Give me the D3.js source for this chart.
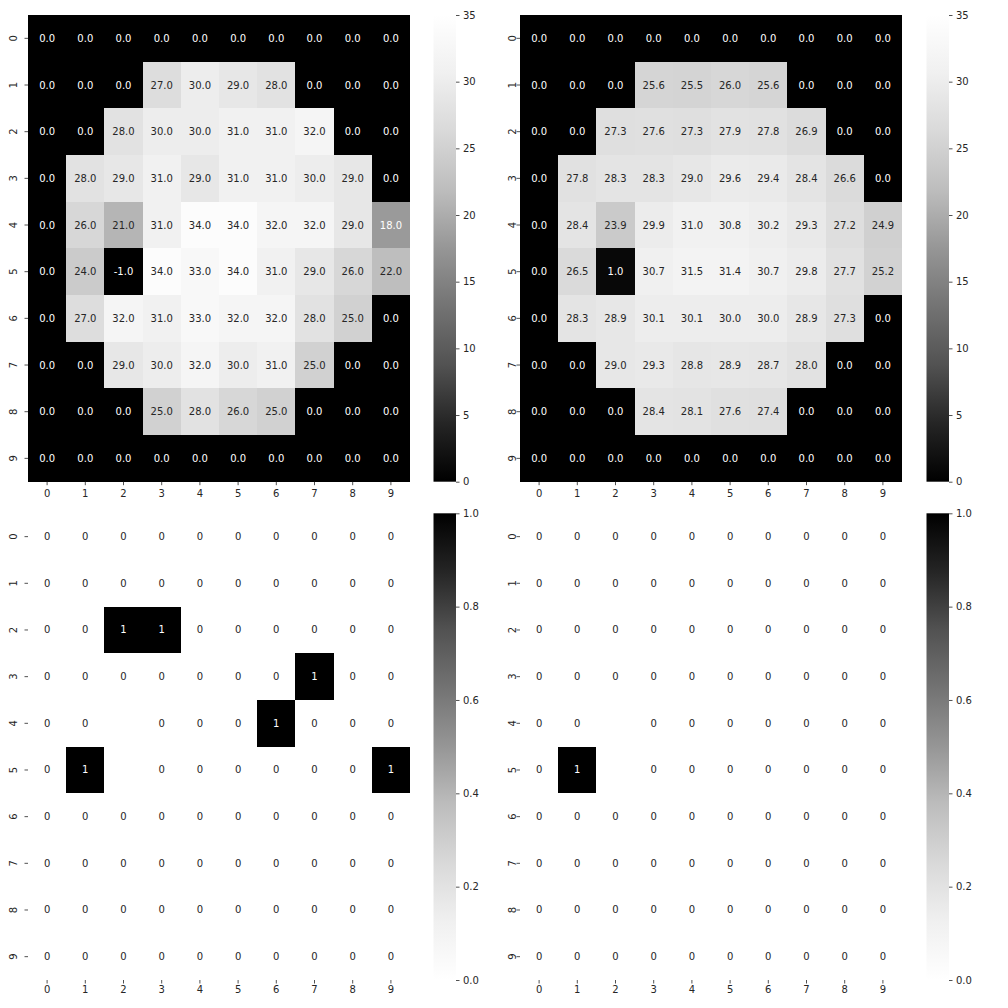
<!DOCTYPE html>
<html>
<head>
<meta charset="utf-8">
<script src="https://cdn.jsdelivr.net/npm/d3@7"></script>
<style>
  html, body { margin: 0; padding: 0; background: #fff; }
  svg { display: block; }
  text { font-family: "DejaVu Sans", sans-serif; }
</style>
</head>
<body>
<svg id="chart" width="1008" height="1008"></svg>
<script>
// ---------- data ----------
const rowLabels = ["0","1","2","3","4","5","6","7","8","9"];
const colLabels = ["0","1","2","3","4","5","6","7","8","9"];

const actualTemps = [
  [0,0,0,0,0,0,0,0,0,0],
  [0,0,0,27,30,29,28,0,0,0],
  [0,0,28,30,30,31,31,32,0,0],
  [0,28,29,31,29,31,31,30,29,0],
  [0,26,21,31,34,34,32,32,29,18],
  [0,24,-1,34,33,34,31,29,26,22],
  [0,27,32,31,33,32,32,28,25,0],
  [0,0,29,30,32,30,31,25,0,0],
  [0,0,0,25,28,26,25,0,0,0],
  [0,0,0,0,0,0,0,0,0,0]
];

const predictedTemps = [
  [0,0,0,0,0,0,0,0,0,0],
  [0,0,0,25.6,25.5,26.0,25.6,0,0,0],
  [0,0,27.3,27.6,27.3,27.9,27.8,26.9,0,0],
  [0,27.8,28.3,28.3,29.0,29.6,29.4,28.4,26.6,0],
  [0,28.4,23.9,29.9,31.0,30.8,30.2,29.3,27.2,24.9],
  [0,26.5,1.0,30.7,31.5,31.4,30.7,29.8,27.7,25.2],
  [0,28.3,28.9,30.1,30.1,30.0,30.0,28.9,27.3,0],
  [0,0,29.0,29.3,28.8,28.9,28.7,28.0,0,0],
  [0,0,0,28.4,28.1,27.6,27.4,0,0,0],
  [0,0,0,0,0,0,0,0,0,0]
];

const anomaliesLeft = [
  [0,0,0,0,0,0,0,0,0,0],
  [0,0,0,0,0,0,0,0,0,0],
  [0,0,1,1,0,0,0,0,0,0],
  [0,0,0,0,0,0,0,1,0,0],
  [0,0,null,0,0,0,1,0,0,0],
  [0,1,null,0,0,0,0,0,0,1],
  [0,0,0,0,0,0,0,0,0,0],
  [0,0,0,0,0,0,0,0,0,0],
  [0,0,0,0,0,0,0,0,0,0],
  [0,0,0,0,0,0,0,0,0,0]
];

const anomaliesRight = [
  [0,0,0,0,0,0,0,0,0,0],
  [0,0,0,0,0,0,0,0,0,0],
  [0,0,0,0,0,0,0,0,0,0],
  [0,0,0,0,0,0,0,0,0,0],
  [0,0,null,0,0,0,0,0,0,0],
  [0,1,null,0,0,0,0,0,0,0],
  [0,0,0,0,0,0,0,0,0,0],
  [0,0,0,0,0,0,0,0,0,0],
  [0,0,0,0,0,0,0,0,0,0],
  [0,0,0,0,0,0,0,0,0,0]
];

const tempTicks = [0,5,10,15,20,25,30,35];
const binTicks = [0,0.2,0.4,0.6,0.8,1.0];

// matplotlib "Greys" colormap stops
const greys = ["#ffffff","#f0f0f0","#d9d9d9","#bdbdbd","#969696","#737373","#525252","#252525","#000000"];

// ---------- helpers ----------
function makeCmap(vmin, vmax, colors) {
  const n = colors.length;
  return d3.scaleLinear()
    .domain(d3.range(n).map(i => vmin + (vmax - vmin) * i / (n - 1)))
    .range(colors)
    .interpolate(d3.interpolateRgb)
    .clamp(true);
}
function lum(c) {
  const rgb = d3.rgb(c);
  const f = v => { v /= 255; return v <= 0.03928 ? v / 12.92 : Math.pow((v + 0.055) / 1.055, 2.4); };
  return 0.2126 * f(rgb.r) + 0.7152 * f(rgb.g) + 0.0722 * f(rgb.b);
}

const svg = d3.select("#chart");
const defs = svg.append("defs");
const TXT = "#262626";

const panels = [
  {data: actualTemps, x0: 28, x1: 410, y0: 15, y1: 481.7, cb0: 433.5, cb1: 456, vmin: 0, vmax: 35,
   colors: greys.slice().reverse(), fmt: v => v.toFixed(1), ticks: tempTicks, tfmt: d => String(d), ylab: 13, xlab: 15},
  {data: predictedTemps, x0: 520, x1: 902, y0: 15, y1: 481.7, cb0: 926.5, cb1: 949, vmin: 0, vmax: 35,
   colors: greys.slice().reverse(), fmt: v => v.toFixed(1), ticks: tempTicks, tfmt: d => String(d), ylab: 512.5, xlab: 15},
  {data: anomaliesLeft, x0: 28, x1: 410, y0: 513.3, y1: 980, cb0: 433.5, cb1: 456, vmin: 0, vmax: 1,
   colors: greys, fmt: v => String(v), ticks: binTicks, tfmt: d => d.toFixed(1), ylab: 13, xlab: 13},
  {data: anomaliesRight, x0: 520, x1: 902, y0: 513.3, y1: 980, cb0: 926.5, cb1: 949, vmin: 0, vmax: 1,
   colors: greys, fmt: v => String(v), ticks: binTicks, tfmt: d => d.toFixed(1), ylab: 512.5, xlab: 13}
];

panels.forEach((p, pi) => {
  const x = d3.scaleBand().domain(colLabels).range([p.x0, p.x1]);
  const y = d3.scaleBand().domain(rowLabels).range([p.y0, p.y1]);
  const cmap = makeCmap(p.vmin, p.vmax, p.colors);

  const cells = [];
  p.data.forEach((row, r) => row.forEach((v, c) => {
    if (v !== null && v !== undefined) cells.push({r, c, v});
  }));

  const g = svg.append("g");
  g.selectAll("rect.cell").data(cells).join("rect")
    .attr("class", "cell")
    .attr("x", d => x(colLabels[d.c]))
    .attr("y", d => y(rowLabels[d.r]))
    .attr("width", x.bandwidth())
    .attr("height", y.bandwidth())
    .attr("shape-rendering", "crispEdges")
    .attr("fill", d => cmap(d.v));

  g.selectAll("text.ann").data(cells).join("text")
    .attr("class", "ann")
    .attr("x", d => x(colLabels[d.c]) + x.bandwidth() / 2)
    .attr("y", d => y(rowLabels[d.r]) + y.bandwidth() / 2)
    .attr("text-anchor", "middle")
    .attr("dominant-baseline", "central")
    .attr("font-size", 10)
    .attr("fill", d => lum(cmap(d.v)) > 0.408 ? TXT : "#ffffff")
    .text(d => p.fmt(d.v));

  // x axis
  const xa = svg.append("g").attr("transform", `translate(0,${p.y1})`)
    .call(d3.axisBottom(x).tickSize(3.5).tickPadding(2));
  xa.select(".domain").remove();
  xa.selectAll(".tick line").attr("stroke", TXT).attr("stroke-width", 0.8);
  xa.selectAll(".tick text").attr("font-size", 10).attr("fill", TXT)
    .attr("font-family", "DejaVu Sans, sans-serif")
    .attr("dy", null).attr("y", p.xlab).attr("dominant-baseline", "auto");

  // y axis
  const ya = svg.append("g").attr("transform", `translate(${p.x0},0)`)
    .call(d3.axisLeft(y).tickSize(3.5));
  ya.select(".domain").remove();
  ya.selectAll(".tick line").attr("stroke", TXT).attr("stroke-width", 0.8);
  ya.selectAll(".tick text").attr("font-size", 10).attr("fill", TXT)
    .attr("font-family", "DejaVu Sans, sans-serif")
    .attr("x", null).attr("dy", null)
    .attr("text-anchor", "middle").attr("dominant-baseline", "central")
    .attr("transform", `translate(${p.ylab - p.x0},0) rotate(-90)`);

  // colorbar
  const gid = "cbgrad" + pi;
  const grad = defs.append("linearGradient").attr("id", gid)
    .attr("x1", 0).attr("y1", 1).attr("x2", 0).attr("y2", 0);
  p.colors.forEach((col, i) => {
    grad.append("stop").attr("offset", i / (p.colors.length - 1)).attr("stop-color", col);
  });
  svg.append("rect").attr("x", p.cb0).attr("y", p.y0)
    .attr("width", p.cb1 - p.cb0).attr("height", p.y1 - p.y0)
    .attr("fill", `url(#${gid})`);
  const cy = d3.scaleLinear().domain([p.vmin, p.vmax]).range([p.y1, p.y0]);
  const ca = svg.append("g").attr("transform", `translate(${p.cb1},0)`)
    .call(d3.axisRight(cy).tickValues(p.ticks).tickFormat(p.tfmt).tickSize(3.5).tickPadding(3.5));
  ca.select(".domain").remove();
  ca.selectAll(".tick line").attr("stroke", TXT).attr("stroke-width", 0.8);
  ca.selectAll(".tick text").attr("font-size", 10).attr("fill", TXT)
    .attr("font-family", "DejaVu Sans, sans-serif");
});
</script>
</body>
</html>
